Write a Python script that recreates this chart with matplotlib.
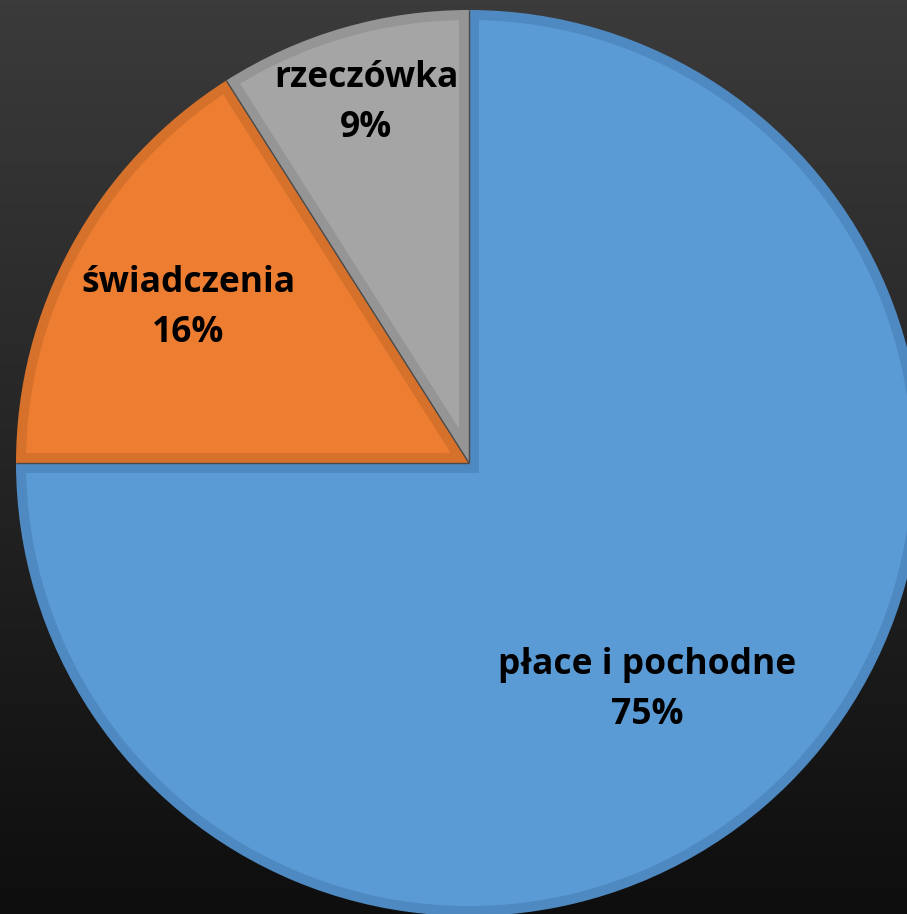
import matplotlib.pyplot as plt
from matplotlib.patches import Polygon
import numpy as np

labels = ['płace i pochodne', 'świadczenia', 'rzeczówka']
shares = [75, 16, 9]
colors = ['#5b9bd5', '#ed7d31', '#a5a5a5']
borders = ['#4f89c2', '#d5712b', '#959595']
label_pos = [(647, 224), (188, 606), (366, 811)]

plt.rcParams['font.family'] = ['Open Sans', 'DejaVu Sans']

fig = plt.figure(figsize=(9.07, 9.14), dpi=100)

# dark vertical gradient behind everything
bg = fig.add_axes([0, 0, 1, 1])
grad = np.linspace(0, 1, 256).reshape(-1, 1)
top = np.array([0x3b, 0x3b, 0x3b]) / 255
bot = np.array([0x0e, 0x0e, 0x0e]) / 255
img = top + (bot - top) * grad[:, :, None]
bg.imshow(img, aspect='auto', extent=[0, 1, 0, 1])
bg.axis('off')

ax = fig.add_axes([0, 0, 1, 1])
ax.patch.set_alpha(0)

cx, cy, r = 469, 451, 453
d = 10  # width of the darker rim inside each slice
wedges, _ = ax.pie(shares, colors=borders, startangle=90, counterclock=False,
                   center=(cx, cy), radius=r, frame=True)


def inset_wedge(a_start, a_end, color):
    # a_start > a_end, slice runs clockwise from a_start to a_end (degrees)
    span = np.deg2rad(a_start - a_end)
    h = span / 2
    mid = np.deg2rad(a_end) + h
    apex = np.array([cx, cy]) + d / np.sin(h) * np.array([np.cos(mid), np.sin(mid)])
    R = r - d
    off = np.arctan2(d, np.sqrt(R ** 2 - d ** 2))
    th = np.linspace(np.deg2rad(a_start) - off, np.deg2rad(a_end) + off, 300)
    arc = np.column_stack([cx + R * np.cos(th), cy + R * np.sin(th)])
    pts = np.vstack([apex, arc])
    ax.add_patch(Polygon(pts, closed=True, facecolor=color, edgecolor='none'))


ang = 90
for s, c in zip(shares, colors):
    inset_wedge(ang, ang - s * 3.6, c)
    ang -= s * 3.6

# thin separators along the slice boundaries
ang = 90
for s in shares:
    t = np.deg2rad(ang)
    ax.plot([cx, cx + r * np.cos(t)], [cy, cy + r * np.sin(t)],
            color='#4a4a4a', lw=1.0, solid_capstyle='butt')
    ang -= s * 3.6

ax.set_xlim(0, 907)
ax.set_ylim(0, 914)
ax.set_aspect('auto')
ax.axis('off')

for lab, s, (x, y) in zip(labels, shares, label_pos):
    ax.text(x, y + 25, lab, ha='center', va='center', fontsize=25.5,
            fontweight='bold', color='black')
    ax.text(x, y - 25, f'{s}%', ha='center', va='center', fontsize=25.5,
            fontweight='bold', color='black')

fig.savefig('out.png', dpi=100)
